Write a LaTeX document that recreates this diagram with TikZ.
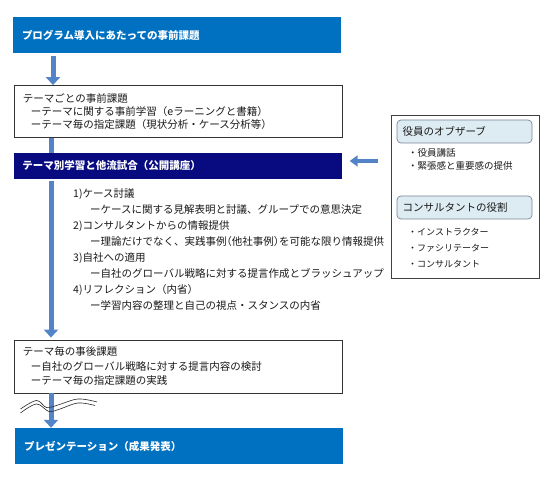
\documentclass[tikz,border=0pt]{standalone}
\usepackage{fontspec}
\newfontfamily\jp{Noto Sans CJK JP}
\newcommand{\halfpunct}[1]{{\addfontfeatures{RawFeature=+halt}#1}}
\usetikzlibrary{arrows.meta,calc}
\definecolor{topblue}{RGB}{0,112,192}
\definecolor{navybar}{RGB}{8,10,128}
\definecolor{flowblue}{RGB}{84,132,200}
\definecolor{hdrfill}{RGB}{221,235,243}
\definecolor{hdrline}{RGB}{120,135,150}
\definecolor{inktext}{RGB}{25,25,25}
\begin{document}
\begin{tikzpicture}[x=1pt,y=-1pt,
  every node/.style={inner sep=0pt, text=inktext, font=\jp\fontsize{10.5}{13}\selectfont},
  bar/.style={minimum width=328pt, text width=310pt, inner xsep=9pt, inner ysep=0pt, align=left,
    text=white, font=\jp\bfseries\fontsize{10.5}{13}\selectfont},
  taskbox/.style={draw=black!80, line width=0.8pt, fill=white, minimum width=328pt,
    text width=310pt, inner xsep=9pt, inner ysep=0pt, align=left},
  flow/.style={draw=flowblue, line width=5pt, -{Triangle[width=14pt,length=8pt]}},
  flowline/.style={draw=flowblue, line width=5pt},
  sidehdr/.style={draw=hdrline, line width=0.7pt, fill=hdrfill, rounded corners=4pt,
    minimum width=135pt, minimum height=23pt, text width=124pt, inner xsep=5.5pt, align=left},
  sideitem/.style={anchor=west, font=\jp\fontsize{9.5}{12}\selectfont},
  breakline/.style={draw=black!85, line width=0.6pt}
]
\useasboundingbox (0,0) rectangle (550,487);

% main flow boxes
\node[bar, fill=topblue, minimum height=36pt] (top) at (177,35)
  {プログラム導入にあたっての事前課題};
\node[taskbox, minimum height=52pt] (pre) at (178,111.5)
  {テーマごとの事前課題\\\hspace{8pt}ーテーマに関する事前学習（eラーニングと書籍）\\\hspace{8pt}ーテーマ毎の指定課題（現状分析・ケース分析等）};
\node[bar, fill=navybar, minimum height=26pt] (study) at (177.5,166)
  {テーマ別学習と他流試合（公開講座）};
\node[anchor=west, align=left, font=\jp\fontsize{10.5}{16.1}\selectfont] (steps) at (73,249.5)
  {1)ケース討議\\
   \hspace{17pt}ーケースに関する見解表明と討議、グループでの意思決定\\
   2)コンサルタントからの情報提供\\
   \hspace{17pt}ー理論だけでなく、実践事例\halfpunct{（}他社事例\halfpunct{）}を可能な限り情報提供\\
   3)自社への適用\\
   \hspace{17pt}ー自社のグローバル戦略に対する提言作成とブラッシュアップ\\
   4)リフレクション（内省）\\
   \hspace{17pt}ー学習内容の整理と自己の視点・スタンスの内省};
\node[taskbox, minimum height=53pt, font=\jp\fontsize{10.5}{14.5}\selectfont] (post) at (178,366.5)
  {テーマ毎の事後課題\\\hspace{8pt}ー自社のグローバル戦略に対する提言内容の検討\\\hspace{8pt}ーテーマ毎の指定課題の実践};
\node[bar, fill=topblue, minimum height=36pt] (present) at (179,446)
  {プレゼンテーション（成果発表）};

% side panel
\node[draw=black!75, line width=0.8pt, fill=white, minimum width=148pt, minimum height=163pt] (panel) at (465,196.5) {};
\node[sidehdr] (hdrA) at (464.5,131.5) {役員のオブザーブ};
\node[sideitem] (itA1) at (408,153) {・役員講話};
\node[sideitem] (itA2) at (408,165.5) {・緊張感と重要感の提供};
\node[sidehdr] (hdrB) at (464.5,207.5) {コンサルタントの役割};
\node[sideitem, font=\jp\fontsize{9}{12}\selectfont] (itB1) at (408,232) {・インストラクター};
\node[sideitem, font=\jp\fontsize{9}{12}\selectfont] (itB2) at (408,248) {・ファシリテーター};
\node[sideitem, font=\jp\fontsize{9}{12}\selectfont] (itB3) at (408,264) {・コンサルタント};

% connectors
\coordinate (xa) at (53,0);
\coordinate (xb) at (51,0);
\coordinate (ya) at (0,161);
\draw[flow, shorten <=3pt] (top.south -| xa) -- (pre.north -| xa);
\draw[flowline] (pre.south -| xb) -- (study.north -| xb);
\draw[flow, shorten <=2pt, shorten >=2pt] (study.south -| xb) -- (post.north -| xb);
\draw[flow] (post.south -| xb) -- (present.north -| xb);
\draw[draw=flowblue, line width=4pt, -{Triangle[width=11pt,length=8pt]}, shorten <=13pt, shorten >=8pt]
  (panel.west |- ya) -- (study.east |- ya);

% break mark
\draw[breakline] plot[smooth, tension=0.6] coordinates {(20.5,409) (36.5,400.5) (46.5,407.5) (58,405) (78,399) (97,402)};
\draw[breakline] plot[smooth, tension=0.6] coordinates {(20.5,413) (36.5,404) (49,411.5) (60,409) (78,403) (95,405.5)};
\end{tikzpicture}
\end{document}
